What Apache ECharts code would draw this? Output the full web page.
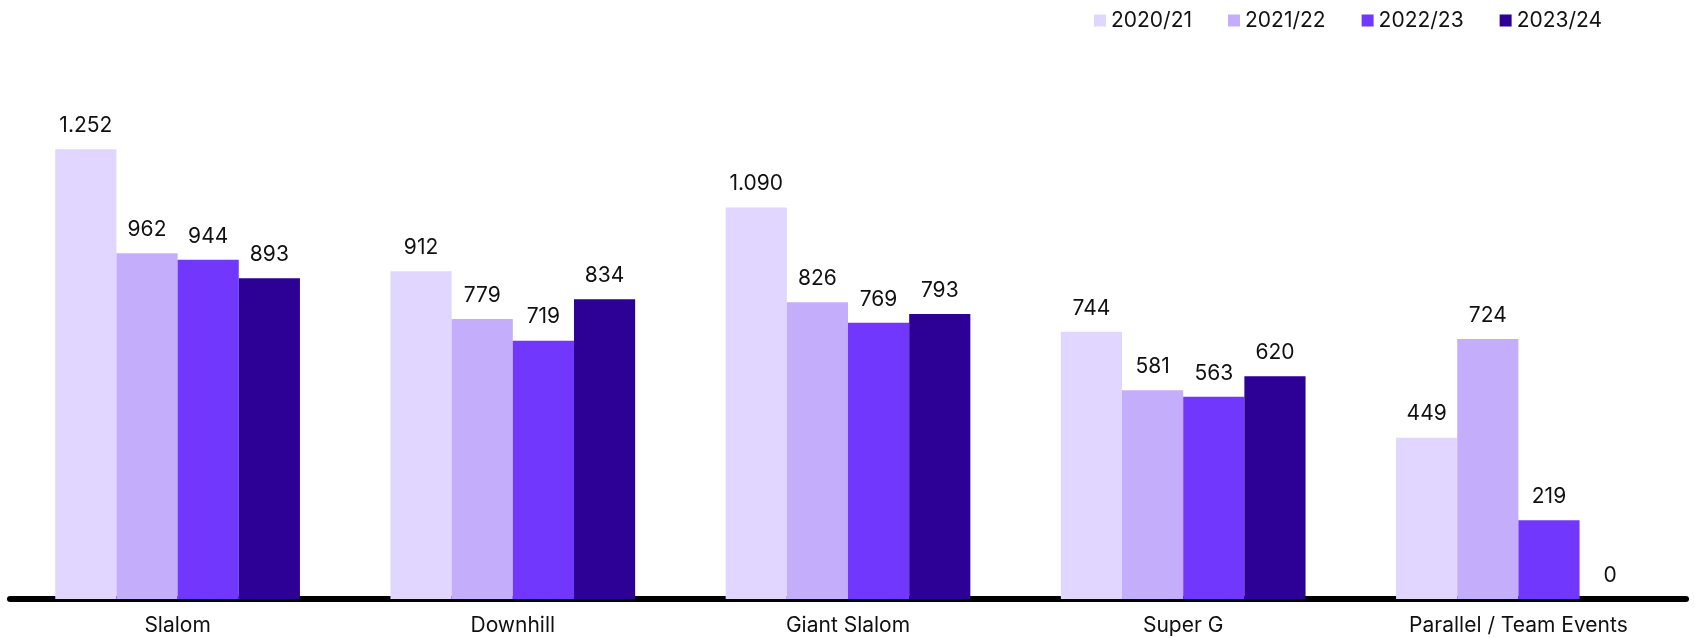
<!DOCTYPE html>
<html>
<head>
<meta charset="utf-8">
<script src="https://cdn.jsdelivr.net/npm/echarts@6/dist/echarts.min.js"></script>
<style>
  html, body { margin: 0; padding: 0; background: #fff; }
  #chart { width: 1694px; height: 638px; }
</style>
</head>
<body>
<div id="chart"></div>
<script>
const categories = ["Slalom", "Downhill", "Giant Slalom", "Super G", "Parallel / Team Events"];
const seasons = ["2020/21", "2021/22", "2022/23", "2023/24"];
const season2021 = [1252, 912, 1090, 744, 449];
const season2122 = [962, 779, 826, 581, 724];
const season2223 = [944, 719, 769, 563, 219];
const season2324 = [893, 834, 793, 620, 0];
const colors = ["#e0d6ff", "#c4aefc", "#7137fc", "#2d0096"];

// German style thousands separator: 1.252
const fmt = (v) => String(v).replace(/\B(?=(\d{3})+(?!\d))/g, ".");

const chart = echarts.init(document.getElementById("chart"), null, { renderer: "canvas" });

const seriesData = [season2021, season2122, season2223, season2324];

chart.setOption({
  animation: false,
  textStyle: { fontFamily: "Inter, 'Noto Sans', sans-serif" },
  legend: {
    data: seasons,
    left: 1089,
    top: 5,
    itemWidth: 12,
    itemHeight: 12,
    itemGap: 36,
    icon: "rect",
    textStyle: { fontSize: 21, color: "#111", fontFamily: "Inter" },
  },
  grid: { left: 10, right: 8, top: 96, bottom: 39, containLabel: false },
  xAxis: {
    type: "category",
    data: categories,
    axisLine: { lineStyle: { color: "#000", width: 6 } },
    axisTick: { show: false },
    axisLabel: { color: "#111", fontSize: 21, margin: 16, fontFamily: "Inter" },
  },
  yAxis: {
    type: "value",
    min: 0,
    max: 1400,
    show: false,
    splitLine: { show: false },
  },
  series: seriesData.map((d, i) => ({
    name: seasons[i],
    type: "bar",
    data: d,
    barGap: "0%",
    barCategoryGap: "27%",
    itemStyle: { color: colors[i] },
    label: {
      show: true,
      position: "top",
      distance: 13,
      color: "#111",
      fontSize: 21,
      fontFamily: "Inter",
      formatter: (p) => fmt(p.value),
    },
  })),
});
</script>
</body>
</html>
